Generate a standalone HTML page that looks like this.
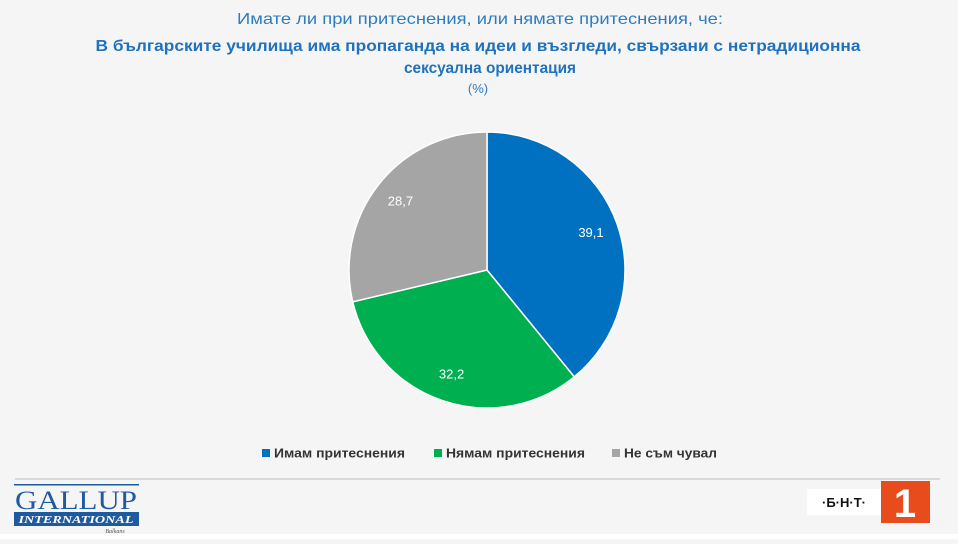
<!DOCTYPE html>
<html><head><meta charset="utf-8"><style>
body{margin:0;width:958px;height:539px;background:#f5f5f5;overflow:hidden;font-family:"Liberation Sans",sans-serif}
</style></head><body>
<svg width="958" height="539" viewBox="0 0 958 539" id="svg">
<rect x="0" y="534" width="958" height="5" fill="#ffffff"/>
<text x="480" y="24" text-anchor="middle" font-size="16" fill="#2e7cc0" textLength="486" lengthAdjust="spacingAndGlyphs">Имате ли при притеснения, или нямате притеснения, че:</text>
<text x="478" y="51" text-anchor="middle" font-size="16" font-weight="bold" fill="#1f72bb" textLength="765" lengthAdjust="spacingAndGlyphs">В българските училища има пропаганда на идеи и възгледи, свързани с нетрадиционна</text>
<text x="490" y="73" text-anchor="middle" font-size="16" font-weight="bold" fill="#1f72bb" textLength="172" lengthAdjust="spacingAndGlyphs">сексуална ориентация</text>
<text x="478" y="93" text-anchor="middle" font-size="13" fill="#2e7cc0">(%)</text>
<g id="pie"></g>
<g id="legend"></g>
<line x1="15" y1="479" x2="940" y2="479" stroke="#d0d0d0" stroke-width="1.5"/>
<g>
<rect x="14" y="484" width="125" height="1.5" fill="#1e5aa0"/>
<text x="76" y="509" text-anchor="middle" font-family="Liberation Serif,serif" font-size="26" fill="#1e5aa0" textLength="122" lengthAdjust="spacingAndGlyphs">GALLUP</text>
<rect x="14" y="512" width="125" height="14" fill="#1e5aa0"/>
<text x="76" y="523" text-anchor="middle" font-family="Liberation Serif,serif" font-style="italic" font-weight="bold" font-size="11" fill="#fff" textLength="115" lengthAdjust="spacingAndGlyphs">INTERNATIONAL</text>
<text x="115" y="533" text-anchor="middle" font-family="Liberation Serif,serif" font-style="italic" font-size="6" fill="#555">Balkans</text>
</g>
<g>
<rect x="807" y="489" width="120" height="26" fill="#fff"/>
<text x="844" y="507" text-anchor="middle" font-weight="bold" font-size="13" fill="#111">·Б·Н·Т·</text>
<rect x="881" y="481" width="49" height="42" fill="#e84c1d"/>
<text x="905" y="517" text-anchor="middle" font-weight="bold" font-size="40" fill="#fff">1</text>
</g>
</svg>
<script>
const categories=["Имам притеснения","Нямам притеснения","Не съм чувал"];
const values=[39.1,32.2,28.7];
const labels=["39,1","32,2","28,7"];
const colors=["#0070c0","#00b050","#a5a5a5"];
const NS="http://www.w3.org/2000/svg";
const cx=487,cy=270,r=138;
const pie=document.getElementById('pie');
const total=values.reduce((a,b)=>a+b,0);
let a0=-Math.PI/2;
const pt=(a,rr)=>[cx+rr*Math.cos(a),cy+rr*Math.sin(a)];
values.forEach((v,i)=>{
 const a1=a0+v/total*2*Math.PI;
 const [x0,y0]=pt(a0,r),[x1,y1]=pt(a1,r);
 const p=document.createElementNS(NS,'path');
 p.setAttribute('d',`M${cx},${cy}L${x0},${y0}A${r},${r} 0 ${a1-a0>Math.PI?1:0} 1 ${x1},${y1}Z`);
 p.setAttribute('fill',colors[i]);p.setAttribute('stroke','#fff');p.setAttribute('stroke-width','1.5');
 
 
 pie.appendChild(p);
 const am=(a0+a1)/2;const [lx,ly]=pt(am,r*0.8);
 const t=document.createElementNS(NS,'text');
 t.setAttribute('x',lx);t.setAttribute('y',ly+4);t.setAttribute('text-anchor','middle');
 t.setAttribute('font-size','13');t.setAttribute('fill','#fff');t.textContent=labels[i];
 
 
 pie.appendChild(t);
 a0=a1;
});
const lg=document.getElementById('legend');
const lx=[262,434,612],lw=[143,151,105];
categories.forEach((c,i)=>{
 const g=document.createElementNS(NS,'g');
 
 
 const s=document.createElementNS(NS,'rect');
 s.setAttribute('x',lx[i]);s.setAttribute('y',449);s.setAttribute('width',8);s.setAttribute('height',8);s.setAttribute('fill',colors[i]);
 g.appendChild(s);
 const t=document.createElementNS(NS,'text');
 t.setAttribute('x',lx[i]+12);t.setAttribute('y',457.5);t.setAttribute('font-size','13');t.setAttribute('font-weight','bold');t.setAttribute('fill','#333');
 t.setAttribute('textLength',lw[i]-12);t.setAttribute('lengthAdjust','spacingAndGlyphs');
 t.textContent=c;g.appendChild(t);lg.appendChild(g);
});
</script>
</body></html>
